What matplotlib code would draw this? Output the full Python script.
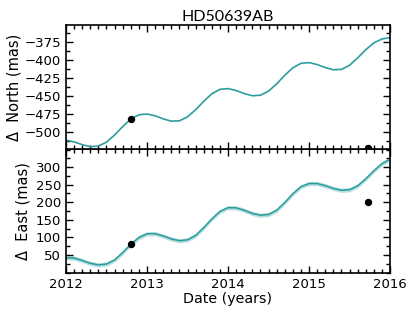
import numpy as np
import matplotlib
matplotlib.use("Agg")
import matplotlib.pyplot as plt
from matplotlib.ticker import AutoMinorLocator, MultipleLocator

# orbit prediction, 0.1 yr steps
dates = [2012.0, 2012.1, 2012.2, 2012.3, 2012.4, 2012.5, 2012.6, 2012.7, 2012.8, 2012.9,
         2013.0, 2013.1, 2013.2, 2013.3, 2013.4, 2013.5, 2013.6, 2013.7, 2013.8, 2013.9,
         2014.0, 2014.1, 2014.2, 2014.3, 2014.4, 2014.5, 2014.6, 2014.7, 2014.8, 2014.9,
         2015.0, 2015.1, 2015.2, 2015.3, 2015.4, 2015.5, 2015.6, 2015.7, 2015.8, 2015.9,
         2016.0]
north = [-511.9, -514.2, -518.1, -520.9, -520.1, -514.5, -504.6, -492.8, -482.3, -476.3,
         -475.3, -477.8, -482.1, -485.3, -484.8, -479.2, -469.3, -457.5, -447.0, -440.8,
         -439.8, -442.5, -446.8, -449.8, -449.0, -443.2, -433.2, -421.2, -410.7, -404.5,
         -403.5, -406.2, -410.5, -413.5, -412.9, -407.1, -396.9, -385.4, -375.9, -370.4,
         -368.6]
east = [42.4, 41.5, 34.5, 26.5, 22.0, 24.5, 36.0, 57.0, 80.5, 100.0,
        110.5, 110.8, 104.3, 95.8, 90.8, 93.3, 105.8, 127.8, 152.8, 173.8,
        184.8, 184.3, 177.3, 168.3, 163.3, 165.3, 177.3, 199.3, 224.3, 244.3,
        253.3, 253.3, 247.3, 239.3, 234.3, 235.8, 246.8, 266.8, 289.8, 309.8,
        322.8]
north_err = 0.8
east_err = 6.0

# measurements
obs_dates = [2012.80, 2015.73]
obs_north = [-483, -522.8]
obs_east = [81, 201]

line_col = "#2b9b9b"
band_col = "#b5dede"

dates = np.array(dates)
north = np.array(north)
east = np.array(east)

fig = plt.figure(figsize=(4.15, 3.12), dpi=100)
ax1 = fig.add_axes([0.159, 0.523, 0.781, 0.397])
ax2 = fig.add_axes([0.159, 0.125, 0.781, 0.398], sharex=ax1)
ax1.set_zorder(3)

ax1.fill_between(dates, north - north_err, north + north_err, color=band_col, lw=0)
ax1.plot(dates, north, color=line_col, lw=1.1)
ax1.plot(obs_dates, obs_north, "o", color="k", ms=4.3, zorder=5)

ax2.fill_between(dates, east - east_err, east + east_err, color=band_col, lw=0)
ax2.plot(dates, east, color=line_col, lw=1.1)
ax2.plot(obs_dates, obs_east, "o", color="k", ms=4.3, zorder=5)

ax1.set_xlim(2012, 2016)
ax1.set_ylim(-524, -351)
ax2.set_ylim(-1, 352)
ax1.set_yticks([-500, -475, -450, -425, -400, -375])
ax2.set_yticks([50, 100, 150, 200, 250, 300])
ax2.set_xticks([2012, 2013, 2014, 2015, 2016])
ax2.set_xticklabels(["2012", "2013", "2014", "2015", "2016"])
ax1.xaxis.set_minor_locator(MultipleLocator(0.1))
for ax in (ax1, ax2):
    ax.yaxis.set_minor_locator(AutoMinorLocator(2))
    ax.tick_params(which="both", direction="in", top=True, right=True, labelsize=9.5, width=1)
    ax.tick_params(which="major", length=5)
    ax.tick_params(which="minor", length=3)
    for s in ax.spines.values():
        s.set_linewidth(1.2)
ax1.tick_params(labelbottom=False)

ax1.set_ylabel("Δ  North (mas)", fontsize=10.5, labelpad=2)
ax2.set_ylabel("Δ  East (mas)", fontsize=10.5, labelpad=4)
ax2.set_xlabel("Date (years)", fontsize=10.3, labelpad=1)
ax1.set_title("HD50639AB", fontsize=11.5, family="Lato", pad=3)

fig.savefig("out.png", dpi=100)
